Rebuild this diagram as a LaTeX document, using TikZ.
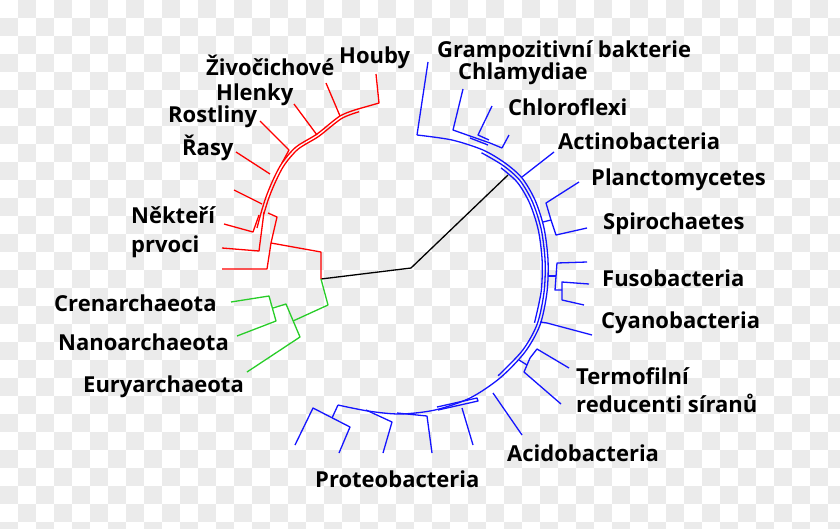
\documentclass[tikz,border=0pt]{standalone}
\usepackage{fontspec}
\newfontfamily\labff{Open Sans}
\definecolor{chk}{RGB}{235,235,235}
\definecolor{tred}{RGB}{255,0,0}
\definecolor{tgreen}{RGB}{40,205,40}
\definecolor{tblue}{RGB}{20,20,255}
\begin{document}
\begin{tikzpicture}[x=1pt,y=-1pt,
  redl/.style={draw=tred,line width=1.3pt,line join=round},
  grnl/.style={draw=tgreen,line width=1.3pt,line join=round},
  blul/.style={draw=tblue,line width=1.3pt,line join=round},
  blkl/.style={draw=black,line width=1.3pt,line join=round},
  lab/.style={font=\labff\bfseries\fontsize{22}{24}\selectfont,anchor=base west,inner sep=0pt,text=black}]
\useasboundingbox (0,0) rectangle (840,528);
\fill[white] (0,0) rectangle (840,528);
% checkerboard background
\foreach \j in {0,...,29}{
  \pgfmathtruncatemacro\s{mod(\j+1,2)}
  \foreach \i in {0,2,...,46}{
    \fill[chk] ({(\i+\s)*18},{\j*18}) rectangle ++(18,18);
  }
}
% ---------- coordinates ----------
\coordinate (root) at (411,268);
\coordinate (rj) at (321,279);
\coordinate (bj) at (508,175);
% ---------- black ----------
\draw[blkl] (rj) -- (root) -- (bj);
% ---------- red ----------
\draw[redl] (376,74) -- (379,103) -- (358,109);
\draw[redl] (326,83) -- (340,116);
\draw[redl] (294,104) -- (317,135);
\draw[redl] (260,121) -- (289,150) -- (282,163);
\draw[redl] (236,152) -- (270,174);
\draw[redl] (234,190) -- (262,204);
\draw[redl] (224,224) -- (253,232) -- (259,215);
\draw[redl] (222,248) -- (259,251) -- (264,212);
\draw[redl] (222,269) -- (267,269) -- (271,243) -- (277,217) -- (268,213);
\draw[redl] (271,243) -- (321,252) -- (rj);
\draw[redl] plot[smooth] coordinates {(358,109) (340,116) (317,134) (296,147) (282,163) (273,180) (266,197) (261,213) (257,228)};
\draw[redl,scale around={0.982:(420,260)}] plot[smooth] coordinates {(358,109) (340,116) (317,134) (296,147) (282,163) (273,180) (266,197) (261,213)};
% ---------- green ----------
\draw[grnl] (rj) -- (328,305) -- (293,321);
\draw[grnl] (273,308) -- (286,304) -- (300,337) -- (247,372);
\draw[grnl] (231,302) -- (269,296) -- (276,321) -- (237,336);
% ---------- blue ----------
\draw[blul] plot[smooth] coordinates {(417,135) (452,140) (483,150) (505,163) (522,178) (535,200) (544,228) (548,260) (547,292) (540,325) (525,352) (500,378) (470,398) (435,410) (400,414) (368,411) (338,405)};
\draw[blul,scale around={0.978:(415,275)}] plot[smooth] coordinates {(483,150) (505,163) (522,178) (535,200) (544,228) (548,260) (547,292) (540,325) (525,352) (500,378)};
\draw[blul,scale around={0.956:(415,275)}] plot[smooth] coordinates {(505,163) (522,178) (535,200) (544,228) (548,260) (547,292) (540,325)};
% upper leaves
\draw[blul] (428,62) -- (417,135);
\draw[blul] (463,89) -- (453,130) -- (470,136) -- (490,143) -- (502,148);
\draw[blul] (470,138) -- (488,145);
\draw[blul] (492,106) -- (478,135) -- (489,140);
\draw[blul] (509,135) -- (502,148);
% right leaves
\draw[blul] (554,152) -- (522,177);
\draw[blul] (579,182) -- (546,203) -- (551,220) -- (556,235) -- (587,228);
\draw[blul] (551,220) -- (543,222);
\draw[blul] (587,262) -- (557,263) -- (555,290) -- (562,290);
\draw[blul] (556,276) -- (548,276);
\draw[blul] (589,284) -- (562,282) -- (562,300) -- (584,305);
\draw[blul] (592,335) -- (547,323) -- (540,322);
\draw[blul] (569,368) -- (537,349) -- (530,358) -- (524,372) -- (561,404);
\draw[blul] (527,365) -- (519,360);
% lower leaves
\draw[blul] (522,435) -- (493,393);
\draw[blul] (473,445) -- (462,408);
\draw[blul] (437,407) -- (477,398) -- (478,401) -- (438,410);
\draw[blul] (432,453) -- (427,416) -- (397,413);
\draw[blul] (383,453) -- (392,422) -- (366,410);
\draw[blul] (295,445) -- (313,408) -- (350,427) -- (339,453);
\draw[blul] (332,418) -- (338,405);
% ---------- labels ----------
\node[lab] (houby) at (339,63) {Houby};
\node[lab] (ziv) at (206,75) {Živočichové};
\node[lab] (hlenky) at (216,100) {Hlenky};
\node[lab] (rostl) at (168,122) {Rostliny};
\node[lab] (rasy) at (182,155) {Řasy};
\node[lab] (nekt) at (131,223) {Někteří};
\node[lab] (prvoci) at (131,252) {prvoci};
\node[lab] (cren) at (54,311) {Crenarchaeota};
\node[lab] (nano) at (58,350) {Nanoarchaeota};
\node[lab] (eury) at (83,392) {Euryarchaeota};
\node[lab] (gram) at (437,57) {Grampozitivní bakterie};
\node[lab] (chlam) at (458,79) {Chlamydiae};
\node[lab] (chlor) at (508,115) {Chloroflexi};
\node[lab] (actino) at (558,149) {Actinobacteria};
\node[lab] (planc) at (591,185) {Planctomycetes};
\node[lab] (spiro) at (603,229) {Spirochaetes};
\node[lab] (fuso) at (602,286) {Fusobacteria};
\node[lab] (cyano) at (601,328) {Cyanobacteria};
\node[lab] (termo) at (576,384) {Termofilní};
\node[lab] (reduc) at (576,412) {reducenti síranů};
\node[lab] (acido) at (507,461) {Acidobacteria};
\node[lab] (proteo) at (315,487) {Proteobacteria};
\end{tikzpicture}
\end{document}
